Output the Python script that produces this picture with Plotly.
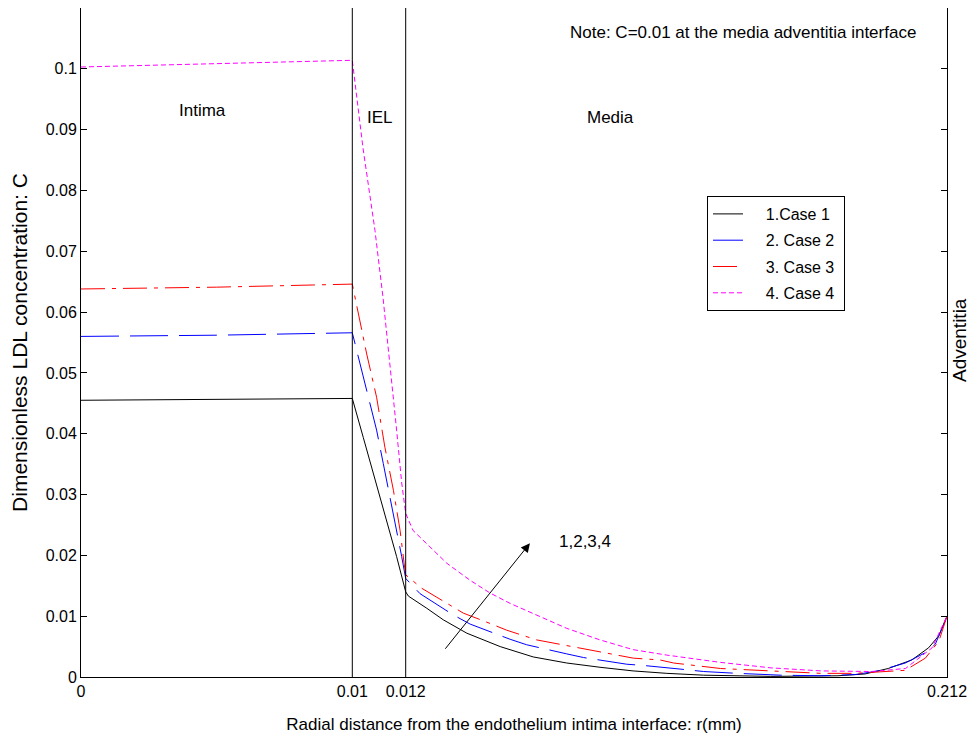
import numpy as np
import plotly.graph_objects as go

# ---- data (r in mm, C dimensionless) ----
r_case1 = [0, 0.005, 0.01, 0.01041, 0.01104, 0.01166, 0.012, 0.0130, 0.0198, 0.0259, 0.0346,
           0.0469, 0.0591, 0.0715, 0.0838, 0.0960, 0.1085, 0.1221, 0.1469, 0.1717, 0.1817,
           0.1903, 0.1990, 0.2052, 0.2090, 0.212]
c_case1 = [0.0455, 0.0456, 0.0458, 0.0394, 0.0296, 0.0198, 0.0140, 0.0133, 0.0113, 0.0094, 0.0072,
           0.0050, 0.0033, 0.0023, 0.0016, 0.0010, 0.0006, 0.0003, 0.0001, 0.0002, 0.0005,
           0.0014, 0.0028, 0.0048, 0.0068, 0.0100]

r_case2 = [0, 0.005, 0.01, 0.01029, 0.01066, 0.01091, 0.01116, 0.01154, 0.01185, 0.012, 0.0173,
           0.0296, 0.0358, 0.0506, 0.0567, 0.0715, 0.0777, 0.0937, 0.0998, 0.1134, 0.1221,
           0.1345, 0.1506, 0.1655, 0.1780, 0.1866, 0.1966, 0.2040, 0.2077, 0.212]
c_case2 = [0.0560, 0.0562, 0.0566, 0.0515, 0.0450, 0.0406, 0.0351, 0.0269, 0.0198, 0.0162, 0.0137,
           0.0102, 0.0087, 0.0062, 0.0053, 0.0038, 0.0032, 0.0021, 0.0019, 0.0013, 0.0009,
           0.0006, 0.0003, 0.0002, 0.0004, 0.0010, 0.0023, 0.0040, 0.0054, 0.0100]

r_case3 = [0, 0.005, 0.01, 0.01022, 0.01054, 0.01091, 0.01122, 0.01154, 0.01179, 0.01194, 0.012,
           0.0179, 0.0272, 0.0333, 0.0432, 0.0493, 0.0604, 0.0653, 0.0764, 0.0838, 0.0961,
           0.1060, 0.1110, 0.1283, 0.1506, 0.1655, 0.1780, 0.1866, 0.1966, 0.2040, 0.2090, 0.212]
c_case3 = [0.0638, 0.0641, 0.0646, 0.0597, 0.0531, 0.0460, 0.0378, 0.0307, 0.0241, 0.0187, 0.0168,
           0.0146, 0.0121, 0.0105, 0.0088, 0.0077, 0.0061, 0.0057, 0.0047, 0.0042, 0.0031,
           0.0028, 0.0023, 0.0014, 0.0009, 0.0006, 0.0006, 0.0008, 0.0011, 0.0031, 0.0059, 0.0100]

r_case4 = [0, 0.005, 0.01, 0.0104, 0.01085, 0.01115, 0.01141, 0.01166, 0.01185, 0.012, 0.0147,
           0.0210, 0.0272, 0.0358, 0.0432, 0.0506, 0.059, 0.0715, 0.0838, 0.0960, 0.1085,
           0.1283, 0.1470, 0.1656, 0.1842, 0.1967, 0.2065, 0.212]
c_case4 = [0.1003, 0.1008, 0.1014, 0.0870, 0.0734, 0.0624, 0.0516, 0.0406, 0.0319, 0.0269, 0.0241,
           0.0213, 0.0187, 0.0159, 0.0138, 0.0121, 0.0105, 0.0080, 0.0061, 0.0045, 0.0036,
           0.0024, 0.0015, 0.0010, 0.0009, 0.0014, 0.0048, 0.0100]

series_names = ["1.Case 1", "2. Case 2", "3. Case 3", "4. Case 4"]
x_tick_vals = [0, 0.01, 0.012, 0.212]
x_tick_text = ["0", "0.01", "0.012", "0.212"]
y_tick_vals = [0, 0.01, 0.02, 0.03, 0.04, 0.05, 0.06, 0.07, 0.08, 0.09, 0.1]
y_tick_text = ["0", "0.01", "0.02", "0.03", "0.04", "0.05", "0.06", "0.07", "0.08", "0.09", "0.1"]
layer_bounds = [0.01, 0.012]

# ---- piecewise axis scale (intima / IEL / media drawn with different widths) ----
BREAKS = [0, 0.01, 0.012, 0.212]
SCALE = [0, 271.3, 324.7, 866.0]


def to_u(r):
    return np.interp(np.asarray(r, dtype=float), BREAKS, SCALE)


FONT = "Liberation Sans, Arial, Helvetica, sans-serif"
NB = "\u00a0"

styles = [
    dict(color="black", dash="solid"),
    dict(color="blue", dash="38px,11px"),
    dict(color="red", dash="24px,7px,4px,7px"),
    dict(color="magenta", dash="5px,3px"),
]

fig = go.Figure()
for i, (name, r, c, st) in enumerate(zip(series_names, [r_case1, r_case2, r_case3, r_case4],
                                         [c_case1, c_case2, c_case3, c_case4], styles)):
    fig.add_trace(go.Scatter(x=to_u(r), y=c, mode="lines", name=NB * 4 + name + NB,
                             legendgroup=f"g{i}",
                             line=dict(color=st["color"], dash=st["dash"], width=1)))

for b in layer_bounds:
    fig.add_shape(type="line", x0=float(to_u(b)), x1=float(to_u(b)), y0=0, y1=1,
                  xref="x", yref="paper", line=dict(color="black", width=1))

# page body has an 8px margin: figure drawn 8px in from the top-left of the window
OFF = 8
W, H = 978 - OFF, 740 - OFF
ML, MR, MT, MB = 73, 31, 0, 63
PW, PH = W - ML - MR, H - MT - MB


def px(x, y):
    return (x - OFF - ML) / PW, 1 - (y - OFF - MT) / PH


def text_ann(x, y, s, size=17, **kw):
    xp, yp = px(x, y)
    fig.add_annotation(x=xp, y=yp, xref="paper", yref="paper", text=s, showarrow=False,
                       xanchor="center", yanchor="middle",
                       font=dict(family=FONT, size=size, color="black"), **kw)


text_ann(202, 110, "Intima")
text_ann(380, 118, "IEL")
text_ann(610, 118, "Media")
text_ann(743, 33, "Note: C=0.01 at the media adventitia interface", size=17)
text_ann(585, 541, "1,2,3,4")
text_ann(959, 340, "Adventitia", size=19, textangle=-90)

# arrow (data coordinates)
fig.add_annotation(x=float(to_u(0.0579)), y=0.0220, ax=float(to_u(0.0262)), ay=0.0044,
                   xref="x", yref="y", axref="x", ayref="y", text="", showarrow=True,
                   arrowhead=2, arrowsize=1.8, arrowwidth=1, arrowcolor="black")

lx, ly = px(707, 196)
fig.update_layout(
    width=W, height=H,
    margin=dict(l=ML, r=MR, t=MT, b=MB, autoexpand=False),
    paper_bgcolor="white", plot_bgcolor="white",
    font=dict(family=FONT, size=16, color="black"),
    showlegend=True,
    legend=dict(x=lx, y=ly, xanchor="left", yanchor="top",
                bgcolor="white", bordercolor="black", borderwidth=1,
                font=dict(family=FONT, size=16, color="black"), tracegroupgap=2.5),
    xaxis=dict(range=[0, SCALE[-1]], tickvals=list(to_u(x_tick_vals)), ticktext=x_tick_text,
               showgrid=False, zeroline=False, showline=True, linecolor="black", linewidth=1,
               mirror=True, ticks="inside", ticklen=0, automargin=False,
               title=dict(text="Radial distance from the endothelium intima interface: r(mm)",
                          font=dict(size=17), standoff=18),
               tickfont=dict(size=16)),
    yaxis=dict(range=[0, 0.11], tickvals=y_tick_vals, ticktext=y_tick_text,
               showgrid=False, zeroline=False, showline=True, linecolor="black", linewidth=1,
               mirror="ticks", ticks="inside", ticklen=6, tickcolor="black", automargin=False,
               title=dict(text="Dimensionless LDL concentration: C", font=dict(size=21), standoff=21),
               tickfont=dict(size=16)),
)

fig.write_html("out.html")
